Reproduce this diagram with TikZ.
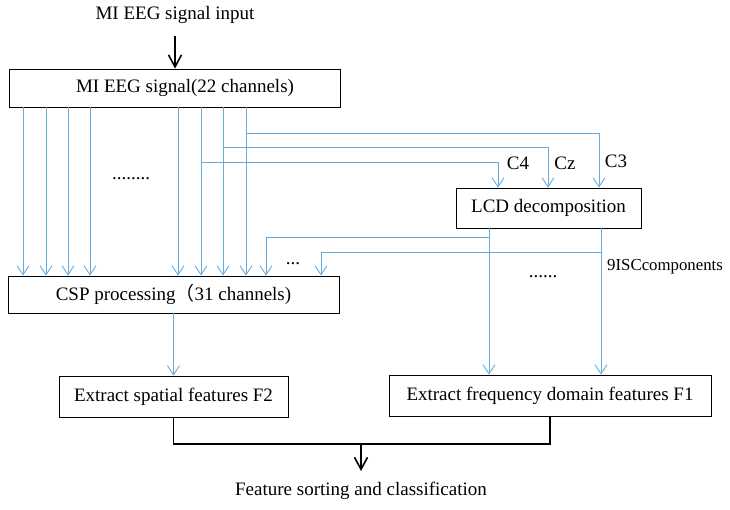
\documentclass[tikz,border=0pt]{standalone}
\usepackage{fontspec}
\setmainfont{Liberation Serif}
\newfontfamily\cjk{Noto Sans CJK SC}
\usetikzlibrary{arrows.meta}
\definecolor{lb}{RGB}{100,172,222}
\begin{document}
\begin{tikzpicture}[x=1pt,y=-1pt,
  font=\fontsize{19}{22}\selectfont,
  box/.style={draw=black,line width=0.9pt,inner sep=0pt},
  txt/.style={inner sep=0pt},
  bl/.style={draw=lb,line width=0.9pt},
  bla/.style={bl,-{Straight Barb[length=9pt,width=12pt,line width=0.9pt]}},
  blk/.style={draw=black,line width=1.6pt},
  blka/.style={blk,-{Straight Barb[length=12pt,width=13pt,line width=1.6pt]}}]
\useasboundingbox (0,0) rectangle (730,509);

% nodes
\node[txt] (in) at (175,15) {MI EEG signal input};
\node[box,minimum width=331pt,minimum height=38pt] (b1) at (174.5,88) {};
\node[txt] (b1t) at (185,88) {MI EEG signal(22 channels)};
\node[box,minimum width=331pt,minimum height=37pt] (csp) at (173.5,294.5) {CSP processing{\cjk （}31 channels)};
\node[box,minimum width=185pt,minimum height=40pt] (lcd) at (548.5,208) {LCD decomposition};
\node[box,minimum width=229pt,minimum height=41pt] (f2) at (173.5,396.5) {Extract spatial features F2};
\node[box,minimum width=322pt,minimum height=41pt] (f1) at (550,395.5) {Extract frequency domain features F1};
\node[txt] (out) at (361,491) {Feature sorting and classification};

\node[txt] (c4) at (518,163) {C4};
\node[txt] (cz) at (565,163) {Cz};
\node[txt] (c3) at (616,161) {C3};
\node[txt,anchor=west,font=\fontsize{16.8}{20}\selectfont] (isc) at (607,267) {9ISCcomponents};
\node[txt] (d1) at (131,179) {........};
\node[txt] (d2) at (293,264) {...};
\node[txt] (d3) at (543,277) {......};

% blue connectors from MI EEG box to CSP
\foreach \x in {23,46,68,90,178,201,223,246} {
  \coordinate (v\x) at (\x,0);
  \draw[bla] (b1.south -| v\x) -- (csp.north -| v\x);
}
% channel branches to LCD
\coordinate (j3) at (246,133); \coordinate (x3) at (599,0);
\coordinate (j2) at (223,147); \coordinate (x2) at (548,0);
\coordinate (j1) at (201,162); \coordinate (x1) at (498,0);
\draw[bla] (j3) -| (lcd.north -| x3);
\draw[bla] (j2) -| (lcd.north -| x2);
\draw[bla] (j1) -| (lcd.north -| x1);

% LCD outputs
\coordinate (l1) at (489,0); \coordinate (l2) at (601,0);
\draw[bla] (lcd.south -| l1) -- (f1.north -| l1);
\draw[bla] (lcd.south -| l2) -- (f1.north -| l2);
\coordinate (k1) at (489,237); \coordinate (t1) at (266,0);
\coordinate (k2) at (601,252); \coordinate (t2) at (321,0);
\draw[bla] (k1) -| (csp.north -| t1);
\draw[bla] (k2) -| (csp.north -| t2);

% CSP to F2
\draw[bla] (csp.south) -- (f2.north);

% black connectors
\coordinate (ia) at (175,36);
\draw[blka] (ia) -- (b1.north -| ia);
\coordinate (m) at (361,444);
\coordinate (oe) at (361,471);
\draw[blk] (f2.south) |- (m) -| (f1.south);
\draw[blka] (m) -- (oe);
\end{tikzpicture}
\end{document}
